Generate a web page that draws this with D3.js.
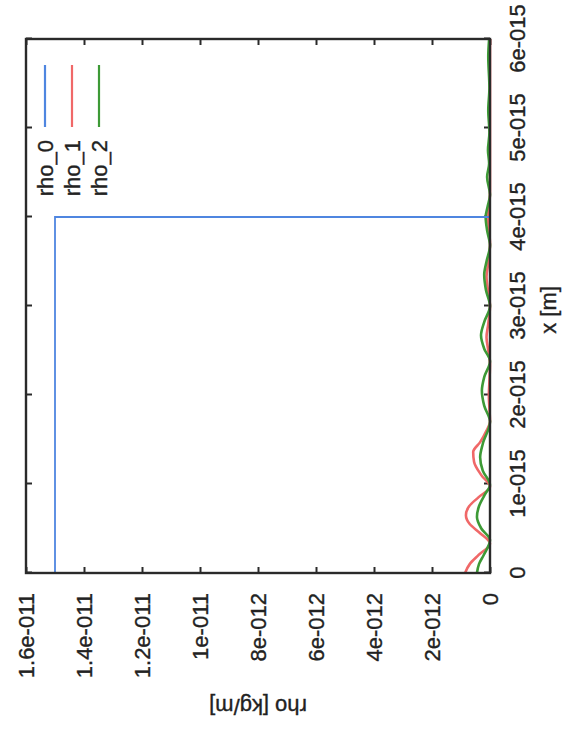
<!DOCTYPE html>
<html>
<head>
<meta charset="utf-8">
<script src="https://cdn.jsdelivr.net/npm/d3@7"></script>
<style>
  body { margin: 0; background: #fff; }
  svg { display: block; }
  text { font-family: "Liberation Sans", Arial, Helvetica, sans-serif; fill: #222; stroke: #222; stroke-width: 0.35; }
</style>
</head>
<body>
<svg id="chart" width="571" height="756"></svg>
<script>
// x in metres, rho in kg/m
const xTicks = [0, 1e-15, 2e-15, 3e-15, 4e-15, 5e-15, 6e-15];
const xTickLabels = ['0', '1e-015', '2e-015', '3e-015', '4e-015', '5e-015', '6e-015'];
const yTicks = [0, 2e-12, 4e-12, 6e-12, 8e-12, 1e-11, 1.2e-11, 1.4e-11, 1.6e-11];
const yTickLabels = ['0', '2e-012', '4e-012', '6e-012', '8e-012', '1e-011', '1.2e-011', '1.4e-011', '1.6e-011'];

const rho0X = [0, 4e-15, 4e-15, 6e-15];
const rho0Y = [1.5e-11, 1.5e-11, 0, 0];

const rho1X = [0, 0.1e-15, 0.2e-15, 0.33e-15, 0.45e-15, 0.55e-15, 0.65e-15, 0.75e-15, 0.85e-15, 0.97e-15,
  1.1e-15, 1.25e-15, 1.36e-15, 1.47e-15, 1.6e-15, 1.7e-15, 1.85e-15, 2.0e-15, 2.15e-15, 2.35e-15,
  2.5e-15, 2.65e-15, 2.8e-15, 3.0e-15, 3.2e-15, 3.33e-15, 3.5e-15, 3.7e-15, 3.9e-15, 4.0e-15,
  4.15e-15, 4.3e-15, 5.0e-15, 6.0e-15];
const rho1Y = [0.86e-12, 0.7e-12, 0.4e-12, 0, 0.35e-12, 0.7e-12, 0.83e-12, 0.72e-12, 0.4e-12, 0,
  0.3e-12, 0.55e-12, 0.58e-12, 0.34e-12, 0.12e-12, 0, 0.02e-12, 0.04e-12, 0.02e-12, 0,
  0.06e-12, 0.12e-12, 0.06e-12, 0, 0.08e-12, 0.12e-12, 0.05e-12, 0, 0.05e-12, 0.07e-12,
  0.02e-12, 0, 0, 0];

const rho2X = [0, 0.1e-15, 0.2e-15, 0.37e-15, 0.5e-15, 0.63e-15, 0.75e-15, 0.88e-15, 0.99e-15,
  1.15e-15, 1.3e-15, 1.45e-15, 1.7e-15, 1.88e-15, 2.05e-15, 2.2e-15, 2.38e-15, 2.52e-15, 2.67e-15,
  2.82e-15, 3.0e-15, 3.18e-15, 3.35e-15, 3.5e-15, 3.68e-15, 3.85e-15, 4.0e-15, 4.12e-15, 4.25e-15,
  4.45e-15, 4.6e-15, 4.75e-15, 4.95e-15, 5.2e-15, 5.45e-15, 5.8e-15, 6.0e-15];
const rho2Y = [0.45e-12, 0.38e-12, 0.22e-12, 0, 0.3e-12, 0.45e-12, 0.38e-12, 0.18e-12, 0,
  0.25e-12, 0.34e-12, 0.25e-12, 0, 0.2e-12, 0.28e-12, 0.2e-12, 0, 0.2e-12, 0.31e-12,
  0.2e-12, 0, 0.14e-12, 0.2e-12, 0.12e-12, 0, 0.1e-12, 0.15e-12, 0.08e-12, 0,
  0.1e-12, 0.03e-12, 0.07e-12, 0.02e-12, 0.06e-12, 0.02e-12, 0.06e-12, 0.03e-12];

const seriesNames = ['rho_0', 'rho_1', 'rho_2'];
const seriesColors = ['#4f86e0', '#f06868', '#3d9a36'];

// the whole gnuplot page is drawn upright then turned a quarter turn left
const W = 756, H = 571;
const margin = { top: 26, right: 39, bottom: 81, left: 183 };
const width = W - margin.left - margin.right;
const height = H - margin.top - margin.bottom;
const fontSize = 22;

const svg = d3.select('#chart');
const page = svg.append('g').attr('transform', `translate(0,${756}) rotate(-90)`);
const plot = page.append('g').attr('transform', `translate(${margin.left},${margin.top})`);

const xScale = d3.scaleLinear([0, 6e-15], [0, width]);
const yScale = d3.scaleLinear([0, 1.6e-11], [height, 0]);

const frameColor = '#2a2a2a';

// ticks (inward, mirrored)
const xAxis = d3.axisBottom(xScale).tickValues(xTicks).tickSize(-6)
  .tickFormat((d, i) => xTickLabels[i]);
plot.append('g')
  .attr('transform', `translate(0,${height})`)
  .call(xAxis)
  .call((g) => g.select('.domain').remove())
  .call((g) => g.selectAll('.tick line').attr('stroke', frameColor).attr('stroke-width', 2))
  .call((g) => g.selectAll('.tick text').attr('y', 27).attr('dy', '0.35em')
    .attr('font-size', fontSize).attr('fill', '#222'));

plot.append('g')
  .call(d3.axisTop(xScale).tickValues(xTicks).tickSize(-6).tickFormat(''))
  .call((g) => g.select('.domain').remove())
  .call((g) => g.selectAll('.tick line').attr('stroke', frameColor).attr('stroke-width', 2));

const yAxis = d3.axisLeft(yScale).tickValues(yTicks).tickSize(-6)
  .tickFormat((d, i) => yTickLabels[i]);
plot.append('g')
  .call(yAxis)
  .call((g) => g.select('.domain').remove())
  .call((g) => g.selectAll('.tick line').attr('stroke', frameColor).attr('stroke-width', 2))
  .call((g) => g.selectAll('.tick text').attr('x', -20).attr('dy', '0.35em')
    .attr('font-size', fontSize).attr('fill', '#222'));

plot.append('g')
  .attr('transform', `translate(${width},0)`)
  .call(d3.axisRight(yScale).tickValues(yTicks).tickSize(-6).tickFormat(''))
  .call((g) => g.select('.domain').remove())
  .call((g) => g.selectAll('.tick line').attr('stroke', frameColor).attr('stroke-width', 2));

// curves
const lineStep = d3.line().x((d) => xScale(d[0])).y((d) => yScale(d[1]));
const lineSmooth = d3.line().x((d) => xScale(d[0])).y((d) => yScale(d[1])).curve(d3.curveMonotoneX);

const rho0 = d3.zip(rho0X, rho0Y);
const rho1 = d3.zip(rho1X, rho1Y);
const rho2 = d3.zip(rho2X, rho2Y);

plot.append('path').datum(rho1)
  .attr('d', lineSmooth).attr('fill', 'none')
  .attr('stroke', seriesColors[1]).attr('stroke-width', 2.6);
plot.append('path').datum(rho2)
  .attr('d', lineSmooth).attr('fill', 'none')
  .attr('stroke', seriesColors[2]).attr('stroke-width', 2.6);
plot.append('path').datum(rho0)
  .attr('d', lineStep).attr('fill', 'none')
  .attr('stroke', seriesColors[0]).attr('stroke-width', 1.8);

// frame
plot.append('rect')
  .attr('width', width).attr('height', height)
  .attr('fill', 'none').attr('stroke', frameColor).attr('stroke-width', 2.4);

// legend
const legend = plot.append('g');
seriesNames.forEach((name, i) => {
  const ly = 19 + i * 27;
  legend.append('line')
    .attr('x1', width - 88).attr('x2', width - 26)
    .attr('y1', ly).attr('y2', ly)
    .attr('stroke', seriesColors[i]).attr('stroke-width', 2.2);
  legend.append('text')
    .attr('x', width - 101).attr('y', ly).attr('dy', '0.35em')
    .attr('text-anchor', 'end').attr('font-size', fontSize)
    .text(name);
});

// axis labels
plot.append('text')
  .attr('x', width / 2 - 4).attr('y', height + 58).attr('dy', '0.35em')
  .attr('text-anchor', 'middle').attr('font-size', fontSize)
  .text('x [m]');

plot.append('text')
  .attr('transform', `translate(${-134},${height / 2}) rotate(-90)`)
  .attr('dy', '0.35em')
  .attr('text-anchor', 'middle').attr('font-size', fontSize)
  .text('rho [kg/m]');
</script>
</body>
</html>
